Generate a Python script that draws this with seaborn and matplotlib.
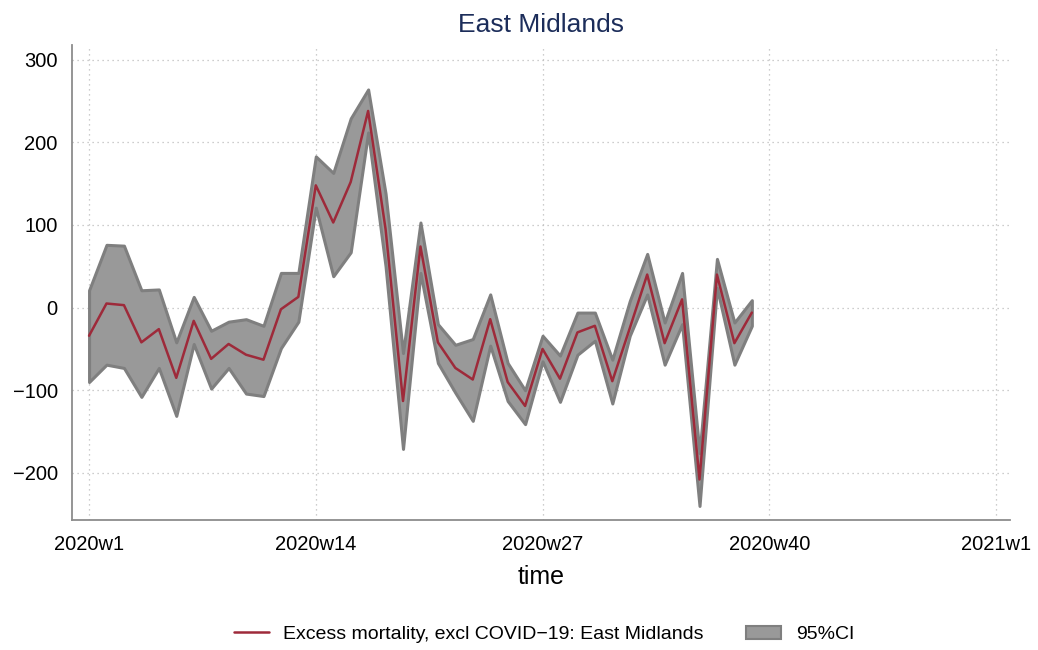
import numpy as np
import pandas as pd
import matplotlib.pyplot as plt
import seaborn as sns
from matplotlib.lines import Line2D
from matplotlib.patches import Patch

# Weekly excess mortality (excl COVID-19), East Midlands, 2020 weeks 1-39
weeks = list(range(1, 40))
excess = [-34, 5, 3, -42, -26, -85, -16, -62, -44, -57,
          -63, -2, 13, 148, 103, 152, 238, 95, -113, 74,
          -42, -73, -87, -14, -90, -119, -50, -86, -30, -22,
          -89, -25, 40, -43, 10, -208, 40, -43, -6]
ci_upper = [21, 76, 75, 21, 22, -42, 13, -28, -17, -14,
            -22, 42, 42, 183, 163, 229, 264, 138, -55, 103,
            -20, -45, -38, 16, -67, -100, -34, -58, -6, -6,
            -63, 8, 65, -18, 42, -176, 59, -18, 9]
ci_lower = [-90, -69, -73, -108, -73, -131, -44, -98, -73, -104,
            -107, -49, -17, 121, 38, 67, 212, 50, -171, 42,
            -67, -103, -137, -46, -113, -141, -65, -114, -57, -40,
            -116, -34, 16, -69, -20, -240, 24, -69, -22]

tick_weeks = [1, 14, 27, 40, 53]
tick_labels = ['2020w1', '2020w14', '2020w27', '2020w40', '2021w1']
y_ticks = [-200, -100, 0, 100, 200, 300]

df = pd.DataFrame({'week': weeks, 'excess': excess,
                   'upper': ci_upper, 'lower': ci_lower})

sns.set_style('white')
plt.rcParams['font.family'] = ['Liberation Sans', 'DejaVu Sans']
plt.rcParams['axes.unicode_minus'] = True
plt.rcParams['text.color'] = 'black'

line_color = '#9e2a3a'
band_color = '#999999'
band_edge = '#7f7f7f'
axis_gray = '#8c8c8c'

fig = plt.figure(figsize=(10.38, 6.5), dpi=100)
ax = fig.add_axes([0.069, 0.2, 0.904, 0.731])

ax.fill_between(df['week'], df['lower'], df['upper'],
                facecolor=band_color, edgecolor=band_edge, linewidth=2.2, zorder=2)
sns.lineplot(data=df, x='week', y='excess', ax=ax, color=line_color,
             linewidth=1.8, zorder=3, legend=False)

ax.set_xlim(0.0, 53.8)
ax.set_ylim(-257, 318)
ax.set_xticks(tick_weeks)
ax.set_xticklabels(tick_labels)
ax.set_yticks(y_ticks)
ax.set_yticklabels([str(v).replace('-', '\u2212') for v in y_ticks])

ax.grid(True, linestyle=(0, (1, 3)), color='#bdbdbd', linewidth=0.9)
ax.set_axisbelow(True)

for side in ['top', 'right']:
    ax.spines[side].set_visible(False)
for side in ['left', 'bottom']:
    ax.spines[side].set_color(axis_gray)
    ax.spines[side].set_linewidth(1.3)
ax.tick_params(axis='both', direction='out', length=6, width=1.2,
               color=axis_gray, labelsize=14.5, labelcolor='black', pad=4)
ax.tick_params(axis='x', pad=5)

ax.set_xlabel('time', fontsize=18, labelpad=8, color='black')
ax.set_ylabel('')
ax.set_title('East Midlands', fontsize=19, color='#1c2d5a', pad=9)

handles = [Line2D([0], [0], color=line_color, linewidth=1.8),
           Patch(facecolor=band_color, edgecolor=band_edge, linewidth=1.5)]
labels = ['Excess mortality, excl COVID\u221219: East Midlands', '95%CI']
fig.legend(handles, labels, loc='center', bbox_to_anchor=(0.524, 0.024),
           ncol=2, frameon=False, fontsize=14, columnspacing=2.2,
           handlelength=1.8, handletextpad=0.75, labelcolor='black')

plt.savefig('out.png', dpi=100)
plt.close()
